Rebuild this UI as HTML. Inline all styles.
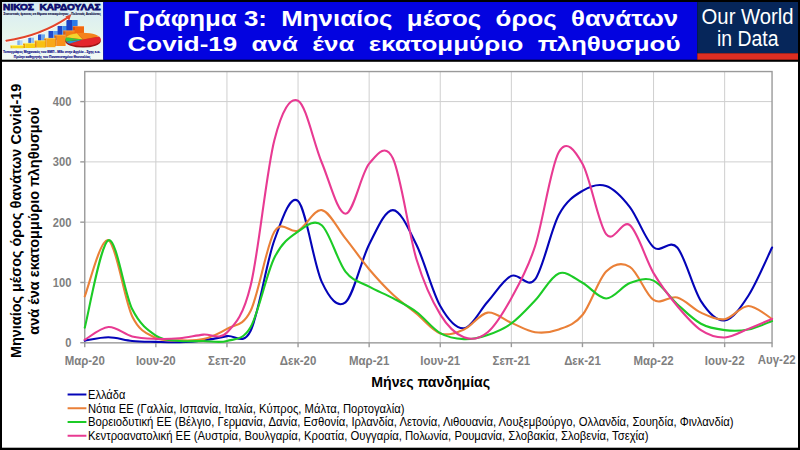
<!DOCTYPE html>
<html lang="el"><head><meta charset="utf-8"><title>Γράφημα 3</title>
<style>html,body{margin:0;padding:0;background:#000;}body{width:800px;height:450px;overflow:hidden;position:relative;font-family:"Liberation Sans",Arial,sans-serif}</style>
</head><body>
<svg width="800" height="450" viewBox="0 0 800 450" style="position:absolute;left:0;top:0;font-family:'Liberation Sans',Arial,sans-serif">
<rect x="0" y="0" width="800" height="450" fill="#000"/>
<rect x="2" y="61.8" width="796" height="385.9" fill="#fff"/>
<defs><linearGradient id="lg" x1="0" y1="0" x2="0" y2="1"><stop offset="0" stop-color="#d6ebf5"/><stop offset="0.5" stop-color="#e4f4ec"/><stop offset="1" stop-color="#f2faf6"/></linearGradient></defs>
<rect x="2" y="2" width="101.3" height="57.7" fill="url(#lg)"/>
<rect x="103.3" y="2" width="594" height="57.7" fill="#0303e0"/>
<rect x="697.3" y="2" width="100.7" height="51.3" fill="#06265a"/>
<rect x="697.3" y="53.3" width="100.7" height="6.4" fill="#dc2e22"/>
<text x="701.6" y="24.3" font-size="22.6" fill="#fff" textLength="92" lengthAdjust="spacingAndGlyphs">Our World</text>
<text x="717" y="45.9" font-size="22.6" fill="#fff" textLength="61.5" lengthAdjust="spacingAndGlyphs">in Data</text>
<g font-weight="bold" font-size="21" fill="#fff" style="white-space:pre">
<text x="123.3" y="25.5" font-size="21.6" textLength="554.9" lengthAdjust="spacingAndGlyphs" xml:space="preserve">Γράφημα 3:  Μηνιαίος  μέσος  όρος  θανάτων</text>
<text x="127.6" y="50.5" textLength="552.9" lengthAdjust="spacingAndGlyphs" xml:space="preserve">Covid-19  ανά  ένα  εκατομμύριο  πληθυσμού</text>
</g>
<g id="logo">
<text x="3.1" y="9.8" font-size="9.1" font-weight="bold" fill="#0c0c6e" stroke="#0c0c6e" stroke-width="0.75" textLength="97.4" lengthAdjust="spacingAndGlyphs" xml:space="preserve" style="white-space:pre">ΝΙΚΟΣ  ΚΑΡΔΟΥΛΑΣ</text>
<text x="3.4" y="14.6" font-size="4.1" font-weight="bold" fill="#1c1c50" stroke="#1c1c50" stroke-width="0.2" textLength="97.4" lengthAdjust="spacingAndGlyphs">Στατιστικές έρευνες σε θέματα επικαιρότητας - Πολιτικές Αναλύσεις</text>
<text x="3.1" y="52.9" font-size="4.1" font-weight="bold" fill="#15158a" stroke="#15158a" stroke-width="0.2" textLength="97" lengthAdjust="spacingAndGlyphs">Τοπογράφος Μηχανικός του ΕΜΠ - MSc στην Αγγλία - Σχης ε.α.</text>
<text x="13.8" y="57.9" font-size="4.1" font-weight="bold" fill="#15158a" stroke="#15158a" stroke-width="0.2" textLength="76.7" lengthAdjust="spacingAndGlyphs">Πρώην καθηγητής του Πανεπιστημίου Θεσσαλίας</text>
<rect x="17.3" y="40.3" width="2.6" height="5.2" fill="#7fb0ee"/>
<rect x="19.9" y="40.3" width="2.6" height="5.2" fill="#b4d4f8"/>
<rect x="28.3" y="37.7" width="2.8" height="6.3" fill="#3a6cd8"/>
<rect x="31.1" y="37.7" width="2.9" height="6.3" fill="#8cbcf4"/>
<rect x="38.0" y="34.4" width="3.5" height="7.6" fill="#2450d0"/>
<rect x="41.5" y="34.4" width="3.5" height="7.6" fill="#6ca8f0"/>
<rect x="48.5" y="31.0" width="4.8" height="9.0" fill="#2048cc"/>
<rect x="53.2" y="31.0" width="4.8" height="9.0" fill="#5a9cf0"/>
<rect x="57.6" y="26.0" width="4.8" height="10.0" fill="#1c44c8"/>
<rect x="62.4" y="26.0" width="4.8" height="10.0" fill="#3c88ec"/>
<rect x="66.4" y="20.0" width="5.6" height="11.0" fill="#1a40c4"/>
<rect x="72.0" y="20.0" width="5.6" height="11.0" fill="#2b7bea"/>
<rect x="72.8" y="26.4" width="2.2" height="8.6" fill="#d85010"/>
<rect x="75.0" y="26.4" width="9.0" height="8.6" fill="#f06810"/>
<rect x="72.8" y="26.1" width="11.2" height="0.8" fill="#ff8c40"/>
<rect x="63.2" y="30.8" width="2.2" height="9.2" fill="#dc5c10"/>
<rect x="65.4" y="30.8" width="9.4" height="9.2" fill="#f27c12"/>
<rect x="63.2" y="30.5" width="11.6" height="0.8" fill="#ffa048"/>
<rect x="54.4" y="35.0" width="2.2" height="11.0" fill="#e06c10"/>
<rect x="56.6" y="35.0" width="9.0" height="11.0" fill="#f89018"/>
<rect x="54.4" y="34.7" width="11.2" height="0.8" fill="#ffb850"/>
<rect x="44.3" y="38.2" width="2.2" height="9.0" fill="#e47c10"/>
<rect x="46.5" y="38.2" width="9.0" height="9.0" fill="#f8a818"/>
<rect x="44.3" y="37.9" width="11.2" height="0.8" fill="#ffcc58"/>
<rect x="34.6" y="40.7" width="2.2" height="6.9" fill="#e88c10"/>
<rect x="36.8" y="40.7" width="8.7" height="6.9" fill="#f8c012"/>
<rect x="34.6" y="40.4" width="10.9" height="0.8" fill="#ffe060"/>
<rect x="23.0" y="43.2" width="2.2" height="4.8" fill="#e89a10"/>
<rect x="25.2" y="43.2" width="9.8" height="4.8" fill="#f8d014"/>
<rect x="23.0" y="42.9" width="12.0" height="0.8" fill="#ffee70"/>
<rect x="10.5" y="45.3" width="2.2" height="3.0" fill="#f0c010"/>
<rect x="12.7" y="45.3" width="10.8" height="3.0" fill="#f8da1c"/>
<rect x="10.5" y="45.0" width="13.0" height="0.8" fill="#fff27a"/>
<ellipse cx="83.0" cy="41.0" rx="17.8" ry="6.6" fill="#a01414"/>
<path d="M83.00 39.40 L99.13 36.61 A17.8 6.6 0 0 1 69.36 43.64 Z" fill="#e4262c"/>
<path d="M83.00 39.40 L69.36 43.64 A17.8 6.6 0 0 1 66.07 41.44 Z" fill="#2f8fd4"/>
<path d="M83.00 39.40 L66.07 41.44 A17.8 6.6 0 0 1 66.07 37.36 Z" fill="#3cc43c"/>
<path d="M83.00 39.40 L66.07 37.36 A17.8 6.6 0 0 1 76.91 33.20 Z" fill="#f2d42c"/>
<path d="M83.00 39.40 L76.91 33.20 A17.8 6.6 0 0 1 99.13 36.61 Z" fill="#f4821c"/>
<path d="M6.3 41.2 Q40 36.5 68 17.9" fill="none" stroke="#fff" stroke-width="2.6" stroke-linecap="round"/>
<path d="M6.3 40.7 Q40 36 68 17.4" fill="none" stroke="#e2452a" stroke-width="1.9" stroke-linecap="round"/>
<path d="M71.2 14.6 L65.3 16.6 L69.3 20.6 Z" fill="#e2452a"/>
</g>
<g stroke="#cfcfcf" stroke-width="1"><line x1="84.75" y1="282.46" x2="772.05" y2="282.46"/><line x1="84.75" y1="222.17" x2="772.05" y2="222.17"/><line x1="84.75" y1="161.88" x2="772.05" y2="161.88"/><line x1="84.75" y1="101.59" x2="772.05" y2="101.59"/><line x1="155.85" y1="71.55" x2="155.85" y2="342.85"/><line x1="226.95" y1="71.55" x2="226.95" y2="342.85"/><line x1="298.05" y1="71.55" x2="298.05" y2="342.85"/><line x1="369.15" y1="71.55" x2="369.15" y2="342.85"/><line x1="440.25" y1="71.55" x2="440.25" y2="342.85"/><line x1="511.35" y1="71.55" x2="511.35" y2="342.85"/><line x1="582.45" y1="71.55" x2="582.45" y2="342.85"/><line x1="653.55" y1="71.55" x2="653.55" y2="342.85"/><line x1="724.65" y1="71.55" x2="724.65" y2="342.85"/></g>
<rect x="84.75" y="71.55" width="687.30" height="271.30" fill="none" stroke="#9a9a9a" stroke-width="1.4"/>
<g stroke="#9a9a9a" stroke-width="1.4"><line x1="80.25" y1="342.75" x2="84.75" y2="342.75"/><line x1="80.25" y1="282.46" x2="84.75" y2="282.46"/><line x1="80.25" y1="222.17" x2="84.75" y2="222.17"/><line x1="80.25" y1="161.88" x2="84.75" y2="161.88"/><line x1="80.25" y1="101.59" x2="84.75" y2="101.59"/><line x1="84.75" y1="342.85" x2="84.75" y2="347.15"/><line x1="155.85" y1="342.85" x2="155.85" y2="347.15"/><line x1="226.95" y1="342.85" x2="226.95" y2="347.15"/><line x1="298.05" y1="342.85" x2="298.05" y2="347.15"/><line x1="369.15" y1="342.85" x2="369.15" y2="347.15"/><line x1="440.25" y1="342.85" x2="440.25" y2="347.15"/><line x1="511.35" y1="342.85" x2="511.35" y2="347.15"/><line x1="582.45" y1="342.85" x2="582.45" y2="347.15"/><line x1="653.55" y1="342.85" x2="653.55" y2="347.15"/><line x1="724.65" y1="342.85" x2="724.65" y2="347.15"/><line x1="772.05" y1="342.85" x2="772.05" y2="347.15"/></g>
<clipPath id="cp"><rect x="83.75" y="71.55" width="689.30" height="272.30"/></clipPath>
<path d="M84.75 340.64 C88.70 340.09 100.55 337.27 108.45 337.32 C116.35 337.37 124.25 340.19 132.15 340.94 C140.05 341.69 147.95 341.64 155.85 341.85 C163.75 342.05 171.65 342.40 179.55 342.15 C187.45 341.90 195.35 341.34 203.25 340.34 C211.15 339.33 219.05 337.73 226.95 336.12 C234.85 334.51 242.75 346.67 250.65 330.69 C258.55 314.72 266.45 261.86 274.35 240.26 C282.25 218.65 290.15 194.14 298.05 201.07 C305.95 208.00 313.85 264.98 321.75 281.86 C329.65 298.74 337.55 308.59 345.45 302.36 C353.35 296.13 361.25 259.85 369.15 244.48 C377.05 229.10 384.95 210.01 392.85 210.11 C400.75 210.21 408.65 229.10 416.55 245.08 C424.45 261.06 432.35 292.11 440.25 305.97 C448.15 319.84 456.05 328.98 463.95 328.28 C471.85 327.58 479.75 310.49 487.65 301.75 C495.55 293.01 503.45 279.55 511.35 275.83 C519.25 272.11 527.15 289.59 535.05 279.45 C542.95 269.30 550.85 229.71 558.75 214.94 C566.65 200.16 574.55 195.64 582.45 190.82 C590.35 186.00 598.25 183.28 606.15 186.00 C614.05 188.71 621.95 196.90 629.85 207.10 C637.75 217.30 645.65 240.46 653.55 247.19 C661.45 253.92 669.35 238.50 677.25 247.49 C685.15 256.49 693.05 288.99 700.95 301.15 C708.85 313.31 716.75 321.35 724.65 320.44 C732.55 319.54 740.45 307.88 748.35 295.72 C756.25 283.57 768.10 255.53 772.05 247.49" fill="none" stroke="#0404b8" stroke-width="2.1" stroke-linejoin="round" stroke-linecap="round"/>
<path d="M84.75 296.33 C88.70 286.98 100.55 236.94 108.45 240.26 C116.35 243.57 124.25 299.94 132.15 316.22 C140.05 332.50 147.95 333.91 155.85 337.93 C163.75 341.95 171.65 340.14 179.55 340.34 C187.45 340.54 195.35 341.04 203.25 339.13 C211.15 337.22 219.05 333.61 226.95 328.88 C234.85 324.16 242.75 326.97 250.65 310.80 C258.55 294.62 266.45 245.18 274.35 231.82 C282.25 218.45 290.15 234.23 298.05 230.61 C305.95 226.99 313.85 208.81 321.75 210.11 C329.65 211.42 337.55 228.60 345.45 238.45 C353.35 248.30 361.25 259.85 369.15 269.20 C377.05 278.54 384.95 287.08 392.85 294.52 C400.75 301.95 408.65 307.33 416.55 313.81 C424.45 320.29 432.35 330.79 440.25 333.41 C448.15 336.02 456.05 332.95 463.95 329.49 C471.85 326.02 479.75 313.71 487.65 312.61 C495.55 311.50 503.45 319.59 511.35 322.85 C519.25 326.12 527.15 331.09 535.05 332.20 C542.95 333.30 550.85 332.35 558.75 329.49 C566.65 326.62 574.55 324.66 582.45 315.02 C590.35 305.37 598.25 279.65 606.15 271.61 C614.05 263.57 621.95 262.06 629.85 266.78 C637.75 271.51 645.65 294.82 653.55 299.94 C661.45 305.07 669.35 295.42 677.25 297.53 C685.15 299.64 693.05 308.99 700.95 312.61 C708.85 316.22 716.75 320.34 724.65 319.24 C732.55 318.13 740.45 306.02 748.35 305.97 C756.25 305.92 768.10 316.78 772.05 318.94" fill="none" stroke="#ea8038" stroke-width="2.1" stroke-linejoin="round" stroke-linecap="round"/>
<path d="M84.75 327.68 C88.70 313.11 100.55 243.37 108.45 240.26 C116.35 237.14 124.25 293.11 132.15 308.99 C140.05 324.86 147.95 330.19 155.85 335.52 C163.75 340.84 171.65 340.04 179.55 340.94 C187.45 341.85 195.35 340.94 203.25 340.94 C211.15 340.94 219.05 343.25 226.95 340.94 C234.85 338.63 242.75 340.94 250.65 327.07 C258.55 313.21 266.45 273.67 274.35 257.74 C282.25 241.81 290.15 236.94 298.05 231.51 C305.95 226.09 313.85 218.50 321.75 225.18 C329.65 231.87 337.55 261.36 345.45 271.61 C353.35 281.86 361.25 282.26 369.15 286.68 C377.05 291.10 384.95 293.92 392.85 298.14 C400.75 302.36 408.65 306.17 416.55 312.00 C424.45 317.83 432.35 328.58 440.25 333.10 C448.15 337.63 456.05 338.83 463.95 339.13 C471.85 339.43 479.75 337.52 487.65 334.91 C495.55 332.30 503.45 329.18 511.35 323.46 C519.25 317.73 527.15 308.89 535.05 300.55 C542.95 292.21 550.85 276.38 558.75 273.42 C566.65 270.45 574.55 278.59 582.45 282.76 C590.35 286.93 598.25 298.39 606.15 298.44 C614.05 298.49 621.95 286.03 629.85 283.06 C637.75 280.10 645.65 277.13 653.55 280.65 C661.45 284.17 669.35 296.98 677.25 304.16 C685.15 311.35 693.05 319.44 700.95 323.76 C708.85 328.08 716.75 329.13 724.65 330.09 C732.55 331.04 740.45 330.99 748.35 329.49 C756.25 327.98 768.10 322.45 772.05 321.05" fill="none" stroke="#1ccb26" stroke-width="2.1" stroke-linejoin="round" stroke-linecap="round"/>
<path d="M84.75 339.74 C88.70 337.63 100.55 327.63 108.45 327.07 C116.35 326.52 124.25 334.46 132.15 336.42 C140.05 338.38 147.95 338.53 155.85 338.83 C163.75 339.13 171.65 338.93 179.55 338.23 C187.45 337.52 195.35 335.57 203.25 334.61 C211.15 333.66 219.05 340.69 226.95 332.50 C234.85 324.31 242.75 317.53 250.65 285.47 C258.55 253.42 266.45 170.97 274.35 140.18 C282.25 109.38 290.15 96.97 298.05 100.69 C305.95 104.40 313.85 143.64 321.75 162.48 C329.65 181.32 337.55 213.53 345.45 213.73 C353.35 213.93 361.25 172.93 369.15 163.69 C377.05 154.44 384.95 142.29 392.85 158.26 C400.75 174.24 408.65 233.52 416.55 259.55 C424.45 285.57 432.35 301.45 440.25 314.41 C448.15 327.38 456.05 334.36 463.95 337.32 C471.85 340.29 479.75 338.73 487.65 332.20 C495.55 325.67 503.45 312.45 511.35 298.14 C519.25 283.82 527.15 270.60 535.05 246.29 C542.95 221.97 550.85 166.00 558.75 152.23 C566.65 138.47 574.55 150.02 582.45 163.69 C590.35 177.35 598.25 223.98 606.15 234.23 C614.05 244.48 621.95 218.70 629.85 225.18 C637.75 231.67 645.65 259.65 653.55 273.12 C661.45 286.58 669.35 296.48 677.25 305.97 C685.15 315.47 693.05 324.84 700.95 330.09 C708.85 335.33 716.75 337.65 724.65 337.44 C732.55 337.24 740.45 331.97 748.35 328.88 C756.25 325.80 768.10 320.59 772.05 318.94" fill="none" stroke="#e83a92" stroke-width="2.1" stroke-linejoin="round" stroke-linecap="round"/>
<g font-weight="bold" font-size="12.4" fill="#7f7f7f">
<text x="65.20" y="347.25" textLength="6.20" lengthAdjust="spacingAndGlyphs">0</text>
<text x="52.78" y="286.96" textLength="18.62" lengthAdjust="spacingAndGlyphs">100</text>
<text x="52.78" y="226.67" textLength="18.62" lengthAdjust="spacingAndGlyphs">200</text>
<text x="52.78" y="166.38" textLength="18.62" lengthAdjust="spacingAndGlyphs">300</text>
<text x="52.78" y="106.09" textLength="18.62" lengthAdjust="spacingAndGlyphs">400</text>
<text x="64.63" y="365" textLength="40.24" lengthAdjust="spacingAndGlyphs">Μαρ-20</text>
<text x="135.95" y="365" textLength="39.79" lengthAdjust="spacingAndGlyphs">Ιουν-20</text>
<text x="208.12" y="365" textLength="37.66" lengthAdjust="spacingAndGlyphs">Σεπ-20</text>
<text x="279.73" y="365" textLength="36.63" lengthAdjust="spacingAndGlyphs">Δεκ-20</text>
<text x="349.03" y="365" textLength="40.24" lengthAdjust="spacingAndGlyphs">Μαρ-21</text>
<text x="420.35" y="365" textLength="39.79" lengthAdjust="spacingAndGlyphs">Ιουν-21</text>
<text x="492.52" y="365" textLength="37.66" lengthAdjust="spacingAndGlyphs">Σεπ-21</text>
<text x="564.13" y="365" textLength="36.63" lengthAdjust="spacingAndGlyphs">Δεκ-21</text>
<text x="633.43" y="365" textLength="40.24" lengthAdjust="spacingAndGlyphs">Μαρ-22</text>
<text x="704.75" y="365" textLength="39.79" lengthAdjust="spacingAndGlyphs">Ιουν-22</text>
<text x="757.76" y="364.2" textLength="37.88" lengthAdjust="spacingAndGlyphs">Αυγ-22</text>
</g>
<text x="371.3" y="387.1" font-weight="bold" font-size="14.3" fill="#000" textLength="118.8" lengthAdjust="spacingAndGlyphs">Μήνες πανδημίας</text>
<g font-weight="bold" font-size="14.8" fill="#000">
<text transform="translate(21.3 358) rotate(-90)" textLength="274.3" lengthAdjust="spacingAndGlyphs">Μηνιαίος μέσος όρος θανάτων Covid-19</text>
<text transform="translate(39.3 334.7) rotate(-90)" textLength="227.7" lengthAdjust="spacingAndGlyphs">ανά ένα εκατομμύριο πληθυσμού</text>
</g>
<g font-size="12.1" fill="#000">
<line x1="67.6" y1="394.50" x2="86.4" y2="394.50" stroke="#0404b8" stroke-width="2"/>
<text x="88" y="398.90" textLength="37.3" lengthAdjust="spacingAndGlyphs">Ελλάδα</text>
<line x1="67.6" y1="408.25" x2="86.4" y2="408.25" stroke="#ea8038" stroke-width="2"/>
<text x="88" y="412.65" textLength="316.4" lengthAdjust="spacingAndGlyphs">Νότια ΕΕ (Γαλλία, Ισπανία, Ιταλία, Κύπρος, Μάλτα, Πορτογαλία)</text>
<line x1="67.6" y1="422.00" x2="86.4" y2="422.00" stroke="#1ccb26" stroke-width="2"/>
<text x="88" y="426.40" textLength="645.6" lengthAdjust="spacingAndGlyphs">Βορειοδυτική ΕΕ (Βέλγιο, Γερμανία, Δανία, Εσθονία, Ιρλανδία, Λετονία, Λιθουανία, Λουξεμβούργο, Ολλανδία, Σουηδία, Φινλανδία)</text>
<line x1="67.6" y1="435.75" x2="86.4" y2="435.75" stroke="#e83a92" stroke-width="2"/>
<text x="88" y="440.15" textLength="560.4" lengthAdjust="spacingAndGlyphs">Κεντροανατολική ΕΕ (Αυστρία, Βουλγαρία, Κροατία, Ουγγαρία, Πολωνία, Ρουμανία, Σλοβακία, Σλοβενία, Τσεχία)</text>
</g>
</svg>
</body></html>
